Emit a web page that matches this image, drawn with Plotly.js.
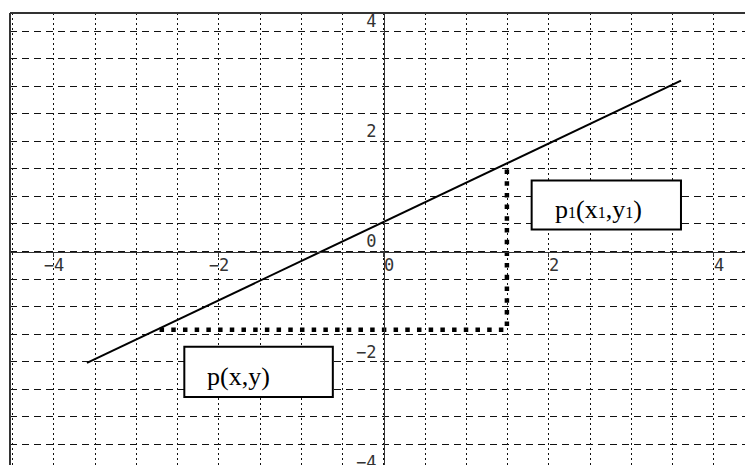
<!DOCTYPE html>
<html>
<head>
<meta charset="utf-8">
<script src="https://cdn.plot.ly/plotly-3.0.1.min.js"></script>
<style>
html,body{margin:0;padding:0;overflow:hidden;background:#fff;}
#chart{width:745px;height:490px;}
</style>
</head>
<body>
<div id="chart"></div>
<script>
// ---- data ----
const lineX = [-3.6, 3.6];
const lineY = [-2.02, 3.1];
const pathX = [-2.72, 1.49, 1.49];
const pathY = [-1.42, -1.42, 1.55];
const tickVals = [-4, -2, 0, 2, 4];
const xTickText = ["\u22124", "\u22122", "\u00A00", "\u00A02", "\u00A04"];
const yTickText = ["\u22124", "\u22122", "0", "2", "4"];
const labelTexts = [
  "p<span style=\"font-size:16px\">1</span>(x<span style=\"font-size:16px\">1</span>,y<span style=\"font-size:16px\">1</span>)",
  "p(x,y)"
];

// ---- layout geometry ----
const xRange = [-4.533, 4.376];
const yRange = [-4.073, 4.327];
const xZeroFrac = (0 - xRange[0]) / (xRange[1] - xRange[0]);
const yZeroFrac = (0 - yRange[0]) / (yRange[1] - yRange[0]);

const tickFont = {family: "DejaVu Sans Mono", size: 17, color: "#333"};
const gridColor = "#111";
const labelFont = {family: "Liberation Serif, Times New Roman, serif", size: 26, color: "#000"};

const traces = [
  {x: lineX, y: lineY, mode: "lines", type: "scatter",
   line: {color: "#000", width: 2}, hoverinfo: "skip"},
  {x: pathX, y: pathY, mode: "lines", type: "scatter",
   line: {color: "#000", width: 4.5, dash: "4.5px,7.2px"}, hoverinfo: "skip"}
];

const layout = {
  width: 745, height: 490,
  margin: {l: 10, r: 0, t: 13, b: 14, pad: 0},
  paper_bgcolor: "#fff", plot_bgcolor: "#fff",
  showlegend: false,
  xaxis: {
    range: xRange, autorange: false, fixedrange: true,
    anchor: "free", position: yZeroFrac,
    showline: true, linecolor: "#333", linewidth: 1,
    zeroline: false,
    tickmode: "array", tickvals: tickVals, ticktext: xTickText,
    ticks: "outside", ticklen: 4, tickcolor: "#333", tickwidth: 1,
    tickfont: tickFont, ticklabelstandoff: -6,
    showgrid: true, gridcolor: gridColor, gridwidth: 1, griddash: "2px,3px",
    minor: {dtick: 0.5, tick0: 0, showgrid: true, gridcolor: gridColor, gridwidth: 1, griddash: "2px,3px", ticks: ""}
  },
  yaxis: {
    range: yRange, autorange: false, fixedrange: true,
    anchor: "free", position: xZeroFrac,
    showline: true, linecolor: "#333", linewidth: 1,
    zeroline: false,
    tickmode: "array", tickvals: tickVals, ticktext: yTickText,
    ticks: "outside", ticklen: 4, tickcolor: "#333", tickwidth: 1,
    tickfont: tickFont, ticklabelshift: -10,
    showgrid: true, gridcolor: gridColor, gridwidth: 1, griddash: "7px,5px",
    minor: {dtick: 0.5, tick0: 0, showgrid: true, gridcolor: gridColor, gridwidth: 1, griddash: "7px,5px", ticks: ""}
  },
  shapes: [
    {type: "line", xref: "paper", yref: "paper", x0: 0, x1: 1, y0: 1, y1: 1,
     line: {color: "#333", width: 2}, layer: "above"},
    {type: "line", xref: "paper", yref: "paper", x0: 0, x1: 0, y0: 0, y1: 1,
     line: {color: "#333", width: 2}, layer: "above"},
    {type: "rect", xref: "x", yref: "y", x0: 1.79, x1: 3.6, y0: 0.4, y1: 1.29,
     fillcolor: "#fff", line: {color: "#000", width: 2}, layer: "above"},
    {type: "rect", xref: "x", yref: "y", x0: -2.42, x1: -0.62, y0: -2.64, y1: -1.73,
     fillcolor: "#fff", line: {color: "#000", width: 2}, layer: "above"}
  ],
  annotations: [
    {x: 2.05, y: 0.76, xref: "x", yref: "y", xanchor: "left", yanchor: "middle",
     text: labelTexts[0], showarrow: false, font: labelFont},
    {x: -2.17, y: -2.27, xref: "x", yref: "y", xanchor: "left", yanchor: "middle",
     text: labelTexts[1], showarrow: false, font: labelFont}
  ]
};

Plotly.newPlot("chart", traces, layout, {staticPlot: true, displayModeBar: false});
</script>
</body>
</html>
